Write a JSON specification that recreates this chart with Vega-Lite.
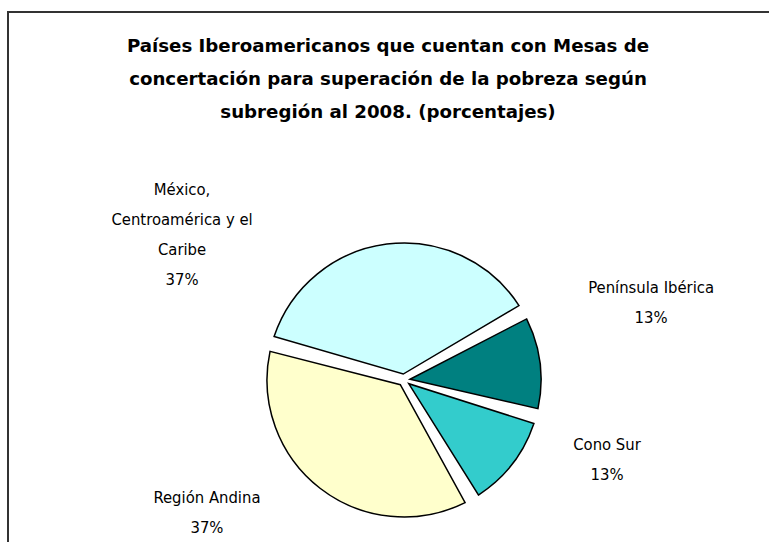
{
  "$schema": "https://vega.github.io/schema/vega-lite/v6.json",
  "autosize": {"type": "none"},
  "padding": {"left": 8, "top": 12, "right": 0, "bottom": 0},
  "width": 792,
  "height": 736,
  "background": "white",
  "view": {"stroke": "#333333", "strokeWidth": 2, "fill": "white"},
  "title": {
    "text": ["Países Iberoamericanos que cuentan con Mesas de", "concertación para superación de la pobreza según", "subregión al 2008. (porcentajes)"],
    "font": "DejaVu Sans",
    "fontSize": 18.2,
    "fontWeight": "bold",
    "color": "#000000",
    "lineHeight": 33,
    "anchor": "middle",
    "frame": "group",
    "offset": -110,
    "dx": -16
  },
  "config": {"view": {"stroke": "#333333", "strokeWidth": 2}},
  "data": {
    "values": [
      {"region": "Península Ibérica", "value": 12.5, "orden": 1, "label": "Península Ibérica\n13%"},
      {"region": "Cono Sur", "value": 12.5, "orden": 2, "label": "Cono Sur\n13%"},
      {"region": "Región Andina", "value": 37.5, "orden": 3, "label": "Región Andina\n37%"},
      {"region": "México, Centroamérica y el Caribe", "value": 37.5, "orden": 4, "label": "México,\nCentroamérica y el\nCaribe\n37%"}
    ]
  },
  "encoding": {
    "theta": {"field": "value", "type": "quantitative", "stack": true, "scale": {"range": [1.0524, 7.3356]}},
    "order": {"field": "orden", "type": "quantitative"}
  },
  "layer": [
    {
      "mark": {"type": "arc", "outerRadius": 137, "innerRadius": 6, "padAngle": 0.112, "stroke": "#000000", "strokeWidth": 1.5, "strokeJoin": "miter"},
      "encoding": {
        "color": {
          "field": "region",
          "type": "nominal",
          "scale": {
            "domain": ["Península Ibérica", "Cono Sur", "Región Andina", "México, Centroamérica y el Caribe"],
            "range": ["#008080", "#33CCCC", "#FFFFCC", "#CCFFFF"]
          },
          "legend": null
        }
      }
    },
    {
      "mark": {"type": "text", "radius": 263.6, "thetaOffset": -0.230, "font": "Liberation Sans Narrow, DejaVu Sans Condensed, Arial Narrow", "fontSize": 16.5, "lineHeight": 30, "lineBreak": "\n", "align": "center", "baseline": "middle", "color": "#000000"},
      "encoding": {"text": {"condition": {"test": "datum.region === 'Península Ibérica'", "field": "label", "type": "nominal"}, "value": ""}}
    },
    {
      "mark": {"type": "text", "radius": 213.2, "thetaOffset": -0.349, "font": "Liberation Sans Narrow, DejaVu Sans Condensed, Arial Narrow", "fontSize": 16.5, "lineHeight": 30, "lineBreak": "\n", "align": "center", "baseline": "middle", "color": "#000000"},
      "encoding": {"text": {"condition": {"test": "datum.region === 'Cono Sur'", "field": "label", "type": "nominal"}, "value": ""}}
    },
    {
      "mark": {"type": "text", "radius": 229.6, "thetaOffset": 0.372, "font": "Liberation Sans Narrow, DejaVu Sans Condensed, Arial Narrow", "fontSize": 16.5, "lineHeight": 30, "lineBreak": "\n", "align": "center", "baseline": "middle", "color": "#000000"},
      "encoding": {"text": {"condition": {"test": "datum.region === 'Región Andina'", "field": "label", "type": "nominal"}, "value": ""}}
    },
    {
      "mark": {"type": "text", "radius": 292.2, "thetaOffset": -0.737, "font": "Liberation Sans Narrow, DejaVu Sans Condensed, Arial Narrow", "fontSize": 16.5, "lineHeight": 30, "lineBreak": "\n", "align": "center", "baseline": "middle", "color": "#000000"},
      "encoding": {"text": {"condition": {"test": "datum.region === 'México, Centroamérica y el Caribe'", "field": "label", "type": "nominal"}, "value": ""}}
    }
  ]
}
